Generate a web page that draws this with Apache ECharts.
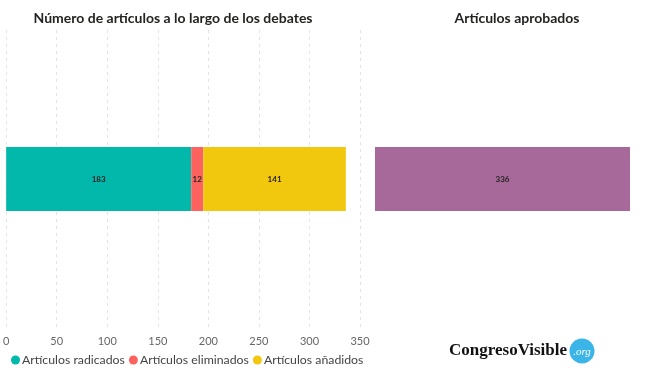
<!DOCTYPE html>
<html><head><meta charset="utf-8">
<script src="https://cdn.jsdelivr.net/npm/echarts@6/dist/echarts.min.js"></script>
<style>html,body{margin:0;padding:0;background:#fff}#c{width:654px;height:392px}</style>
</head><body><div id="c"></div>
<script>
const category = ['Debates'];
const seriesNames = ['Artículos radicados', 'Artículos eliminados', 'Artículos añadidos'];
const radicados = [183];
const eliminados = [12];
const anadidos = [141];
const aprobadosName = 'Artículos aprobados';
const aprobados = [336];
const xTicks = [0, 50, 100, 150, 200, 250, 300, 350];
const colors = ['#01B8AA', '#FD625E', '#F2C80F'];
const font = "Lato, 'Open Sans', sans-serif";

const chart = echarts.init(document.getElementById('c'), null, {renderer: 'canvas'});
const lbl = {show: true, position: 'inside', color: '#252423', fontSize: 8, fontWeight: 'bold', fontFamily: font};
chart.setOption({
  animation: false,
  title: [
    {text: 'Número de artículos a lo largo de los debates', left: 168, top: 6, textAlign: 'center',
     textStyle: {fontSize: 14, fontWeight: 'bold', color: '#252423', fontFamily: font}},
    {text: 'Artículos aprobados', left: 512, top: 6, textAlign: 'center',
     textStyle: {fontSize: 14, fontWeight: 'bold', color: '#252423', fontFamily: font}}
  ],
  legend: {
    data: seriesNames, left: 6, top: 349, icon: 'circle', itemWidth: 9, itemHeight: 9, itemGap: 4,
    textStyle: {fontSize: 12.3, color: '#444', fontFamily: font, padding: [0, 0, 0, -3]}
  },
  grid: [
    {left: 6, width: 354, top: 30, bottom: 64},
    {left: 375, right: 24, top: 30, bottom: 64}
  ],
  xAxis: [
    {type: 'value', gridIndex: 0, min: xTicks[0], max: xTicks[xTicks.length - 1], interval: 50,
     axisLine: {show: false}, axisTick: {show: false},
     axisLabel: {color: '#666', fontSize: 11, fontFamily: font, margin: 8},
     splitLine: {show: true, lineStyle: {color: '#e4e4e4', type: [3, 4], width: 1}}},
    {type: 'value', gridIndex: 1, min: 0, max: aprobados[0], show: false, splitLine: {show: false}}
  ],
  yAxis: [
    {type: 'category', gridIndex: 0, data: category, show: false},
    {type: 'category', gridIndex: 1, data: category, show: false}
  ],
  series: [
    {name: seriesNames[0], type: 'bar', stack: 'a', data: radicados, barWidth: 64, itemStyle: {color: colors[0]}, label: lbl},
    {name: seriesNames[1], type: 'bar', stack: 'a', data: eliminados, barWidth: 64, itemStyle: {color: colors[1]}, label: lbl},
    {name: seriesNames[2], type: 'bar', stack: 'a', data: anadidos, barWidth: 64, itemStyle: {color: colors[2]}, label: lbl},
    {name: aprobadosName, type: 'bar', xAxisIndex: 1, yAxisIndex: 1, data: aprobados, barWidth: 64,
     itemStyle: {color: '#A66999'}, label: lbl}
  ],
  graphic: [
    {type: 'text', left: 449, top: 342, style: {text: 'CongresoVisible', font: "bold 17px 'Liberation Serif', serif", fill: '#111'}},
    {type: 'circle', shape: {cx: 582, cy: 351, r: 12.5}, style: {fill: '#3BB4E8'}},
    {type: 'text', x: 582, y: 352, style: {text: '.org', font: "italic 11px 'Liberation Serif', serif", fill: '#fff', align: 'center', verticalAlign: 'middle'}}
  ]
});
</script></body></html>
